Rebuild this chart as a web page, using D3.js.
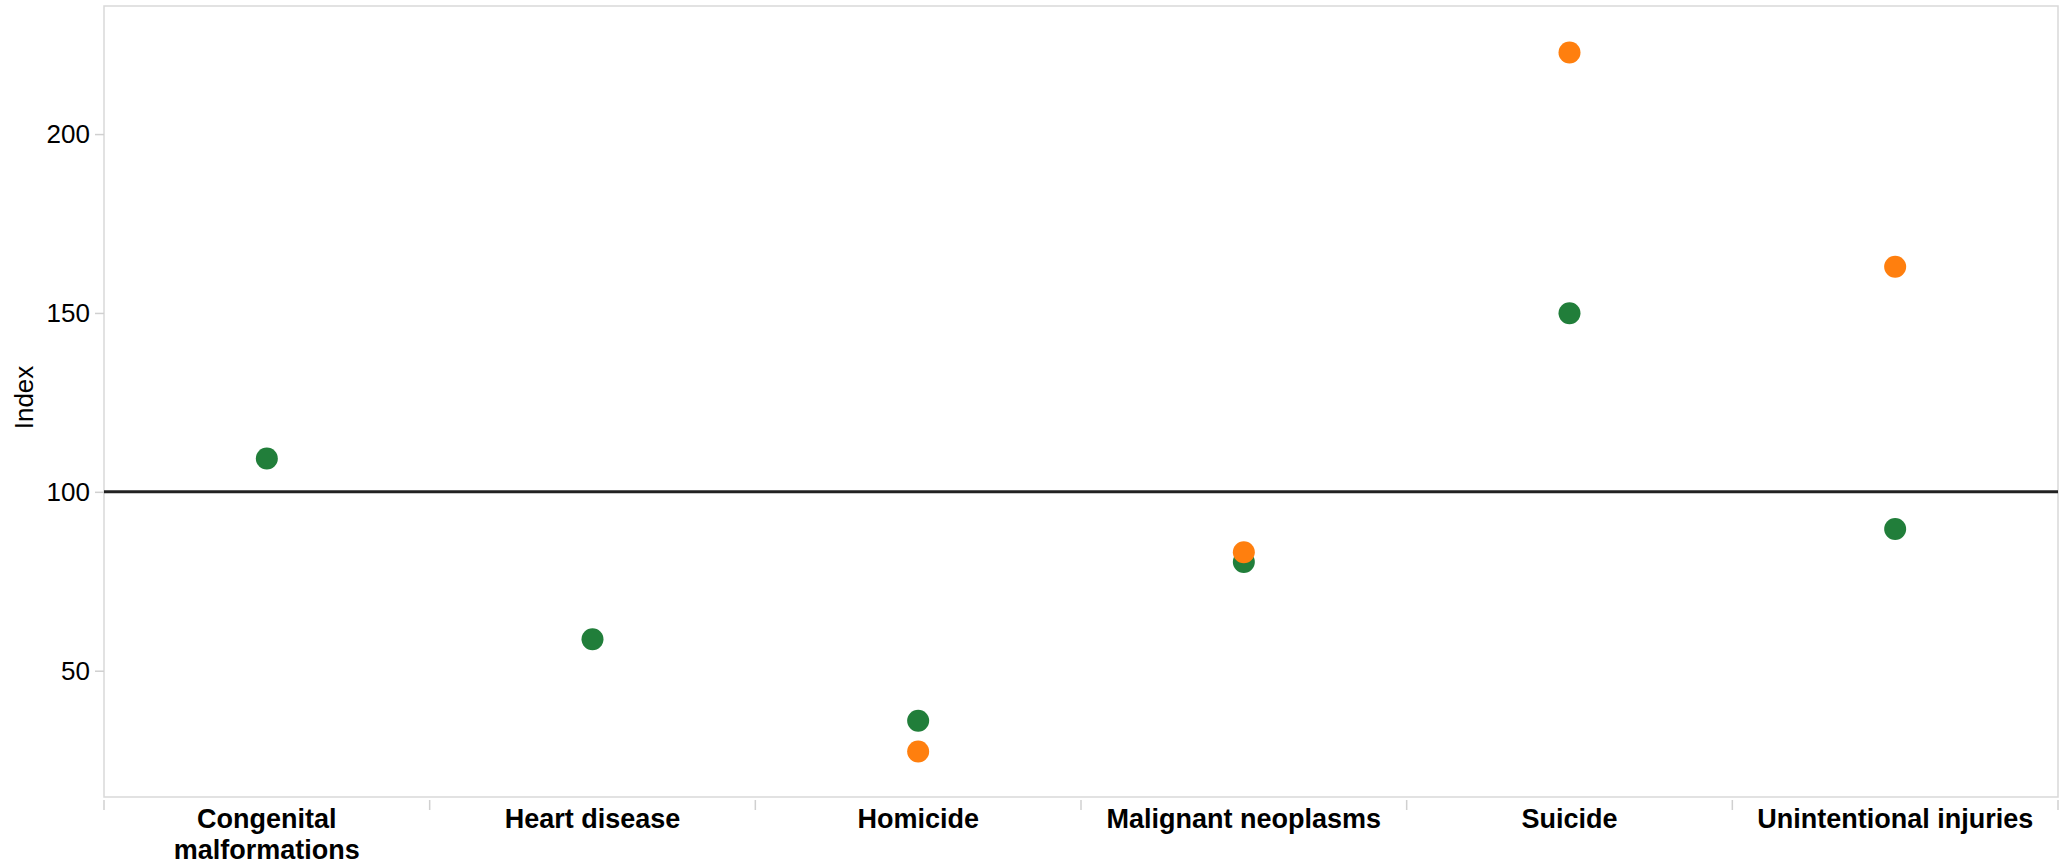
<!DOCTYPE html>
<html>
<head>
<meta charset="utf-8">
<script src="https://cdn.jsdelivr.net/npm/d3@7"></script>
<style>
  html, body { margin: 0; padding: 0; background: #fff; }
  svg { display: block; }
  text { font-family: "Liberation Sans", Arial, sans-serif; }
</style>
</head>
<body>
<svg id="chart" width="2062" height="865"></svg>
<script>
// ---- data ----
const categories = ["Congenital malformations", "Heart disease", "Homicide", "Malignant neoplasms", "Suicide", "Unintentional injuries"];
const seriesGreen = [109.3, 58.8, 36.0, 80.4, 149.9, 89.6];
const seriesOrange = [null, null, 27.4, 83.1, 222.8, 162.9];
const yTicks = [50, 100, 150, 200];
const referenceValue = 100;
const yDomain = [14.7, 235.8];
const yTitle = "Index";

// ---- layout ----
const W = 2062, H = 865;
const plot = { left: 104, right: 2058, top: 6, bottom: 797 };
const colors = { green: "#217e3a", orange: "#ff7f0e" };

const svg = d3.select("#chart");

const x = d3.scaleBand().domain(categories).range([plot.left, plot.right]).padding(0);
const y = d3.scaleLinear().domain(yDomain).range([plot.bottom, plot.top]);

// plot border
svg.append("rect")
  .attr("x", plot.left).attr("y", plot.top)
  .attr("width", plot.right - plot.left).attr("height", plot.bottom - plot.top)
  .attr("fill", "none").attr("stroke", "#d9d9d9").attr("stroke-width", 1.5);

// y axis
const yAxis = svg.append("g")
  .attr("transform", `translate(${plot.left},0)`)
  .call(d3.axisLeft(y).tickValues(yTicks).tickSize(9).tickPadding(5).tickFormat(d3.format("d")));
yAxis.select(".domain").remove();
yAxis.selectAll(".tick line").attr("stroke", "#d0d0d0").attr("stroke-width", 1.5);
yAxis.selectAll(".tick text")
  .attr("font-size", 26).attr("fill", "#000")
  .attr("font-family", "'Liberation Sans', Arial, sans-serif");

// y title
svg.append("text")
  .attr("transform", `translate(24,${(plot.top + plot.bottom) / 2 - 4}) rotate(-90)`)
  .attr("text-anchor", "middle").attr("dominant-baseline", "central")
  .attr("font-size", 26).attr("fill", "#000")
  .text(yTitle);

// x axis (labels)
const xAxis = svg.append("g")
  .attr("transform", `translate(0,${plot.bottom})`)
  .call(d3.axisBottom(x).tickSize(0).tickPadding(0));
xAxis.select(".domain").remove();
xAxis.selectAll(".tick line").remove();

// x tick marks at band boundaries
const boundaries = categories.map(c => x(c)).concat([x(categories[categories.length - 1]) + x.bandwidth()]);
svg.append("g").selectAll("line").data(boundaries).join("line")
  .attr("x1", d => d).attr("x2", d => d)
  .attr("y1", plot.bottom + 3).attr("y2", plot.bottom + 13)
  .attr("stroke", "#d0d0d0").attr("stroke-width", 1.5);

// wrap x labels
const maxW = x.bandwidth() - 20;
xAxis.selectAll(".tick text").each(function(d) {
  const t = d3.select(this);
  t.text(null).attr("y", 0).attr("dy", null)
    .attr("font-size", 27).attr("font-weight", "bold").attr("fill", "#000")
    .attr("font-family", "'Liberation Sans', Arial, sans-serif");
  const words = d.split(" ");
  let lines = [], cur = [];
  const tmp = t.append("tspan");
  words.forEach(w => {
    const test = cur.concat([w]).join(" ");
    tmp.text(test);
    if (tmp.node().getComputedTextLength() > maxW && cur.length) {
      lines.push(cur.join(" "));
      cur = [w];
    } else {
      cur.push(w);
    }
  });
  lines.push(cur.join(" "));
  tmp.remove();
  lines.forEach((ln, i) => {
    t.append("tspan").attr("x", 0).attr("y", 31 + i * 31).text(ln);
  });
});

// reference line
svg.append("line")
  .attr("x1", plot.left).attr("x2", plot.right)
  .attr("y1", y(referenceValue)).attr("y2", y(referenceValue))
  .attr("stroke", "#222").attr("stroke-width", 3);

// points
const greenData = categories.map((c, i) => ({ c, v: seriesGreen[i] })).filter(d => d.v != null);
const orangeData = categories.map((c, i) => ({ c, v: seriesOrange[i] })).filter(d => d.v != null);

svg.append("g").selectAll("circle").data(greenData).join("circle")
  .attr("cx", d => x(d.c) + x.bandwidth() / 2)
  .attr("cy", d => y(d.v))
  .attr("r", 11)
  .attr("fill", colors.green);

svg.append("g").selectAll("circle").data(orangeData).join("circle")
  .attr("cx", d => x(d.c) + x.bandwidth() / 2)
  .attr("cy", d => y(d.v))
  .attr("r", 11)
  .attr("fill", colors.orange);
</script>
</body>
</html>
